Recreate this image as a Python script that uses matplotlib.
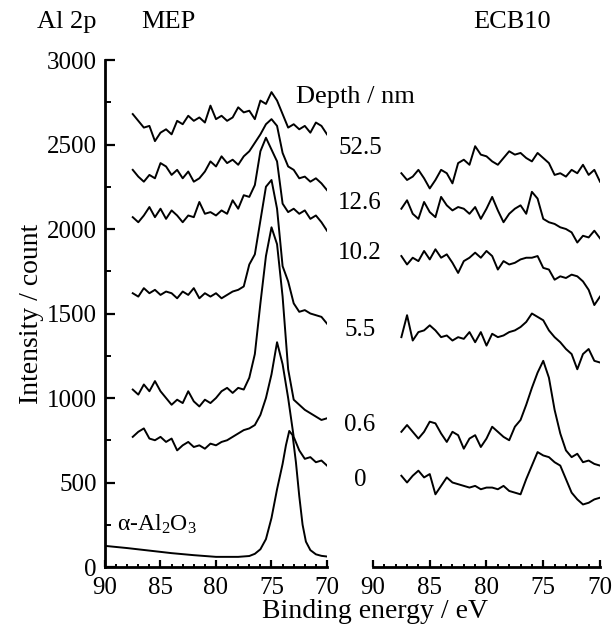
import numpy as np
import matplotlib
matplotlib.use('Agg')
from matplotlib import pyplot as plt
from matplotlib.ticker import MultipleLocator

plt.rcParams['font.family'] = ['Liberation Serif', 'DejaVu Serif']
plt.rcParams['mathtext.fontset'] = 'custom'
plt.rcParams['mathtext.rm'] = 'Liberation Serif'
plt.rcParams['mathtext.it'] = 'Liberation Serif:italic'

# binding energy grid (eV) of the depth profiles
energy = [87.5, 87.0, 86.5, 86.0, 85.5, 85.0, 84.5, 84.0, 83.5, 83.0, 82.5, 82.0,
          81.5, 81.0, 80.5, 80.0, 79.5, 79.0, 78.5, 78.0, 77.5, 77.0, 76.5, 76.0,
          75.5, 75.0, 74.5, 74.0, 73.5, 73.0, 72.5, 72.0, 71.5, 71.0, 70.5, 70.0]

depths = ['52.5', '12.6', '10.2', '5.5', '0.6', '0']

# MEP spectra (counts, stacked)
mep_525 = [2680, 2640, 2600, 2610, 2520, 2570, 2590, 2560, 2640, 2620, 2670, 2640,
           2660, 2630, 2730, 2650, 2670, 2640, 2660, 2720, 2690, 2700, 2650, 2760,
           2740, 2810, 2760, 2680, 2600, 2620, 2590, 2610, 2570, 2630, 2610, 2560]
mep_126 = [2350, 2310, 2280, 2320, 2300, 2390, 2370, 2320, 2350, 2300, 2340, 2280,
           2300, 2340, 2400, 2370, 2430, 2390, 2410, 2380, 2430, 2460, 2510, 2560,
           2620, 2650, 2610, 2450, 2370, 2350, 2300, 2310, 2280, 2300, 2270, 2230]
mep_102 = [2070, 2040, 2080, 2130, 2070, 2120, 2060, 2110, 2080, 2040, 2080, 2070,
           2160, 2090, 2100, 2080, 2110, 2090, 2170, 2120, 2200, 2190, 2260, 2460,
           2540, 2470, 2400, 2150, 2100, 2120, 2090, 2110, 2060, 2080, 2040, 1990]
mep_55 = [1620, 1600, 1650, 1620, 1640, 1610, 1630, 1620, 1590, 1630, 1610, 1650,
          1590, 1620, 1600, 1620, 1590, 1610, 1630, 1640, 1660, 1790, 1850, 2050,
          2250, 2290, 2120, 1780, 1690, 1560, 1510, 1520, 1500, 1490, 1480, 1440]
mep_06 = [1050, 1020, 1080, 1040, 1100, 1040, 1000, 960, 990, 970, 1040, 980,
          950, 990, 970, 1000, 1040, 1060, 1030, 1060, 1050, 1120, 1260, 1560,
          1840, 2010, 1910, 1600, 1170, 990, 960, 930, 910, 890, 870, 880]
mep_0 = [770, 800, 820, 760, 750, 770, 740, 760, 690, 720, 740, 710,
         720, 700, 730, 720, 740, 750, 770, 790, 810, 820, 840, 900,
         1000, 1140, 1330, 1200, 1000, 770, 690, 640, 650, 620, 630, 600]

# alpha-Al2O3 reference
ref_energy = [90, 88, 86, 84, 82, 80, 78, 77, 76.5, 76, 75.5, 75, 74.5, 74, 73.7,
              73.4, 73.1, 72.8, 72.5, 72.2, 71.9, 71.5, 71, 70.5, 70]
ref_counts = [125, 112, 97, 82, 70, 60, 60, 65, 78, 105, 165, 290, 460, 610, 720,
              805, 780, 620, 420, 250, 150, 100, 75, 66, 62]

# ECB10 spectra
ecb_525 = [2330, 2290, 2310, 2350, 2300, 2240, 2290, 2350, 2330, 2270, 2390, 2410,
           2380, 2490, 2440, 2430, 2400, 2380, 2420, 2460, 2440, 2450, 2420, 2400,
           2450, 2420, 2390, 2320, 2330, 2310, 2350, 2330, 2380, 2320, 2350, 2280]
ecb_126 = [2120, 2170, 2090, 2060, 2160, 2100, 2070, 2190, 2140, 2110, 2130, 2120,
           2090, 2130, 2060, 2120, 2190, 2110, 2040, 2090, 2120, 2140, 2090, 2220,
           2180, 2060, 2040, 2030, 2010, 2000, 1980, 1920, 1960, 1950, 1990, 1945]
ecb_102 = [1840, 1790, 1830, 1810, 1870, 1820, 1880, 1830, 1850, 1800, 1740, 1810,
           1830, 1860, 1830, 1870, 1840, 1760, 1810, 1790, 1800, 1820, 1830, 1830,
           1840, 1770, 1760, 1700, 1720, 1710, 1730, 1720, 1690, 1640, 1550, 1600]
ecb_55 = [1360, 1490, 1340, 1390, 1400, 1430, 1400, 1360, 1370, 1340, 1360, 1350,
          1390, 1330, 1390, 1310, 1380, 1360, 1370, 1390, 1400, 1420, 1450, 1500,
          1480, 1460, 1400, 1360, 1330, 1290, 1260, 1170, 1260, 1290, 1220, 1210]
ecb_06 = [800, 840, 800, 760, 800, 860, 850, 790, 740, 800, 780, 700,
          760, 780, 710, 760, 830, 800, 770, 750, 830, 870, 960, 1060,
          1150, 1220, 1120, 930, 790, 690, 650, 670, 620, 630, 610, 600]
ecb_0 = [540, 500, 540, 570, 530, 550, 430, 480, 530, 500, 490, 480,
         470, 480, 460, 470, 470, 460, 480, 450, 440, 430, 520, 600,
         680, 660, 650, 620, 600, 520, 440, 400, 370, 380, 400, 410]

mep = [mep_525, mep_126, mep_102, mep_55, mep_06, mep_0]
ecb = [ecb_525, ecb_126, ecb_102, ecb_55, ecb_06, ecb_0]

W, H = 613, 638
fig = plt.figure(figsize=(W / 100, H / 100), dpi=100)
ax1 = fig.add_axes([105 / W, 1 - 567 / H, 222 / W, 507 / H])
ax2 = fig.add_axes([373 / W, 1 - 567 / H, 227 / W, 507 / H])

lw = 1.4
for s in mep:
    ax1.plot(energy, s, color='black', lw=lw)
ax1.plot(ref_energy, ref_counts, color='black', lw=lw)
for s in ecb:
    ax2.plot(energy, s, color='black', lw=lw)

for ax in (ax1, ax2):
    ax.set_xlim(90, 70)
    ax.set_ylim(0, 3000)
    ax.spines['top'].set_visible(False)
    ax.spines['right'].set_visible(False)
    ax.spines['bottom'].set_linewidth(2.0)
    ax.xaxis.set_major_locator(MultipleLocator(5))
    ax.xaxis.set_minor_locator(MultipleLocator(1))
    ax.tick_params(axis='x', which='major', direction='in', length=5, width=1.6,
                   labelsize=18, pad=7, top=False)
    ax.tick_params(axis='x', which='minor', direction='in', length=2.5, width=1.4,
                   top=False)

ax1.spines['left'].set_linewidth(2.0)
ax1.yaxis.set_major_locator(MultipleLocator(500))
ax1.yaxis.set_minor_locator(MultipleLocator(250))
ax1.tick_params(axis='y', which='major', direction='in', length=7, width=1.6,
                labelsize=18, pad=6, right=False)
ax1.tick_params(axis='y', which='minor', direction='in', length=4.5, width=1.4,
                right=False)
ax1.set_ylabel('Intensity / count', fontsize=20, labelpad=2)

ax2.spines['left'].set_visible(False)
ax2.set_yticks([])

ax1.text(88.9, 250, 'α-Al$_\\mathrm{2}$O$_\\mathrm{3}$', fontsize=17, va='center')

fig.text(67 / W, 1 - 22 / H, 'Al 2p', fontsize=19, ha='center', va='center')
fig.text(168 / W, 1 - 22 / H, 'MEP', fontsize=19, ha='center', va='center')
fig.text(512 / W, 1 - 22 / H, 'ECB10', fontsize=19, ha='center', va='center')
fig.text(355 / W, 1 - 97 / H, 'Depth / nm', fontsize=19, ha='center', va='center')
fig.text(375 / W, 1 - 612 / H, 'Binding energy / eV', fontsize=20,
         ha='center', va='center')

depth_y = [148, 203, 253, 330, 425, 480]
for d, py in zip(depths, depth_y):
    fig.text(360 / W, 1 - py / H, d, fontsize=18, ha='center', va='center')

fig.savefig('out.png', dpi=100)
